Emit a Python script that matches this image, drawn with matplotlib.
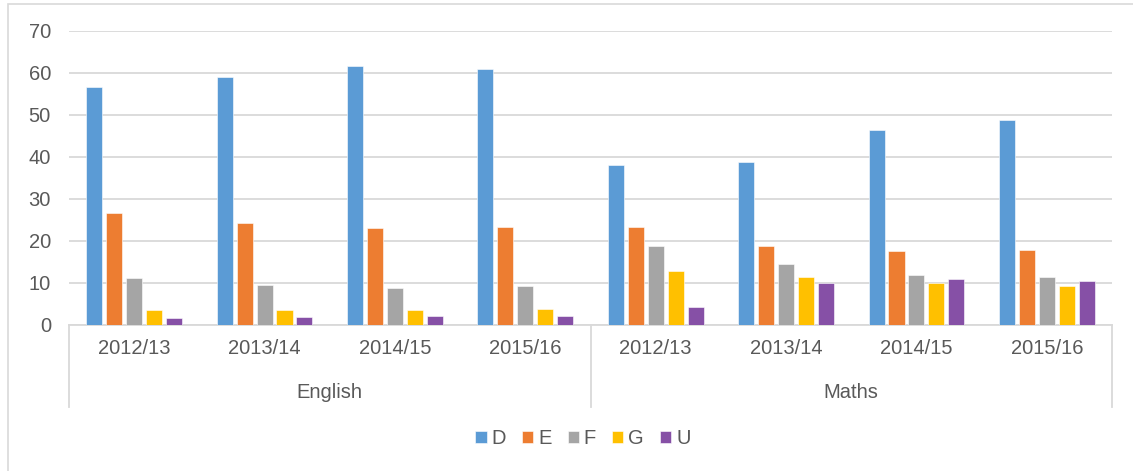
import matplotlib.pyplot as plt
from matplotlib.patches import Rectangle
import numpy as np

# dados
subjects = ["English", "Maths"]
years = ["2012/13", "2013/14", "2014/15", "2015/16"]
grades = ["D", "E", "F", "G", "U"]

grade_D = [56.6, 59.1, 61.7, 61.0, 38.0, 38.7, 46.5, 48.7]
grade_E = [26.6, 24.3, 23.0, 23.3, 23.4, 18.9, 17.7, 17.8]
grade_F = [11.1, 9.4, 8.9, 9.2, 18.8, 14.4, 11.8, 11.3]
grade_G = [3.6, 3.6, 3.6, 3.8, 12.8, 11.4, 9.9, 9.3]
grade_U = [1.7, 1.9, 2.1, 2.1, 4.4, 10.0, 10.9, 10.4]

cores = ["#5B9BD5", "#ED7D31", "#A5A5A5", "#FFC000", "#8650A6"]
texto = "#595959"
grade_cor = "#D9D9D9"
fs = 14.5

plt.rcParams['font.family'] = ['Liberation Sans', 'DejaVu Sans']

W, H = 1133, 471
fig = plt.figure(figsize=(W / 100, H / 100), dpi=100)

# moldura externa
fig.patches.append(Rectangle((8 / W, -0.1), 1.2, 1 - 4 / H + 0.1,
                             transform=fig.transFigure, fill=False,
                             edgecolor=grade_cor, linewidth=1.2))

left, right = 69 / W, 1112 / W
bottom, top = 1 - 325 / H, 1 - 30.7 / H
ax = fig.add_axes([left, bottom, right - left, top - bottom])

n = len(subjects) * len(years)
x = np.arange(n)
series = [grade_D, grade_E, grade_F, grade_G, grade_U]
passo = 0.153
larg = 0.123
for i, (vals, c, g) in enumerate(zip(series, cores, grades)):
    ax.bar(x + (i - 2) * passo, vals, width=larg, color=c, label=g,
           edgecolor="white", linewidth=0.4, zorder=3)

ax.set_xlim(-0.5, n - 0.5)
ax.set_ylim(0, 70)
ax.set_yticks(range(0, 71, 10))
ax.yaxis.grid(True, color=grade_cor, linewidth=1.3, zorder=0)
ax.tick_params(axis='y', length=0, colors=texto, labelsize=fs, pad=13)
ax.set_xticks([])
for s in ["top", "right", "left"]:
    ax.spines[s].set_visible(False)
ax.spines["bottom"].set_color(grade_cor)
ax.spines["bottom"].set_linewidth(1.3)

# rotulos de categoria em dois niveis
trans = ax.get_xaxis_transform()
alt = 325 - 30.7
y_ano = -24 / alt
y_mat = -68 / alt
y_fim = -82 / alt
for k in range(n):
    ax.text(x[k], y_ano, years[k % len(years)], transform=trans,
            ha="center", va="center", color=texto, fontsize=fs)
for j, s in enumerate(subjects):
    centro = j * len(years) + (len(years) - 1) / 2
    ax.text(centro, y_mat, s, transform=trans, ha="center", va="center",
            color=texto, fontsize=fs)
for xs in [-0.5, 3.5, n - 0.5]:
    ax.plot([xs, xs], [0, y_fim], transform=trans, color=grade_cor,
            linewidth=1.3, clip_on=False)

leg = fig.legend(loc="center", bbox_to_anchor=(583 / W, 1 - 439 / H), ncol=5,
                 frameon=False, fontsize=fs, handlelength=0.55,
                 handleheight=0.55, handletextpad=0.25, columnspacing=0.8)
for t in leg.get_texts():
    t.set_color(texto)

fig.savefig("out.png", dpi=100)
